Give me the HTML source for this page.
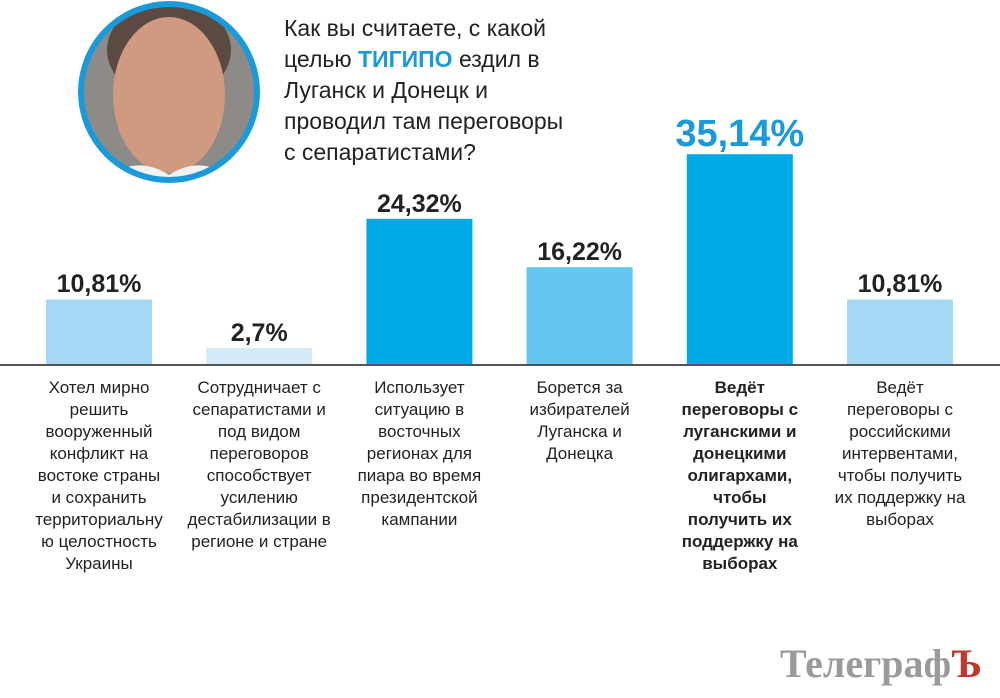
<!DOCTYPE html>
<html><head><meta charset="utf-8"><style>
body{margin:0;width:1000px;height:698px;background:#fff;overflow:hidden;font-family:"Liberation Sans",sans-serif;position:relative}
.t{position:absolute;left:284px;top:13px;font-size:23px;line-height:31px;color:#222}
.lab{position:absolute;width:170px;text-align:center;font-size:17px;line-height:22px;color:#222;top:377px}
.val{position:absolute;width:160px;text-align:center;font-weight:bold;font-size:25px;color:#222}
</style></head><body>
<div class="t">Как вы считаете, с какой<br>целью <b style="color:#1a9ad9">ТИГИПО</b> ездил в<br>Луганск и Донецк и<br>проводил там переговоры<br>с сепаратистами?</div>
<svg width="1000" height="698" style="position:absolute;left:0;top:0" id="ch">
<defs><clipPath id="cp"><circle cx="169" cy="92" r="88"/></clipPath></defs>
<g>
<circle cx="169" cy="92" r="88" fill="#8e8a88"/>
<g clip-path="url(#cp)">
<ellipse cx="169" cy="50" rx="62" ry="50" fill="#5a4a42"/>
<ellipse cx="169" cy="95" rx="56" ry="78" fill="#cf9a80"/>
<path d="M95 190 Q130 150 169 175 Q208 150 243 190Z" fill="#f2f2f2"/>
</g>
<circle cx="169" cy="92" r="88" fill="none" stroke="#1a9ad9" stroke-width="6"/>
</g>
<line x1="0" y1="365" x2="1000" y2="365" stroke="#555" stroke-width="2"/>
</svg>
<div style="position:absolute;left:780px;top:640px;font-family:'Liberation Serif',serif;font-weight:bold;font-size:40px;color:#9a9a9a">Телеграф<span style="color:#c0392b">Ъ</span></div>
<script>
const categories=["Хотел мирно решить вооруженный конфликт на востоке страны и сохранить территориальну ю целостность Украины","Сотрудничает с сепаратистами и под видом переговоров способствует усилению дестабилизации в регионе и стране","Использует ситуацию в восточных регионах для пиара во время президентской кампании","Борется за избирателей Луганска и Донецка","Ведёт переговоры с луганскими и донецкими олигархами, чтобы получить их поддержку на выборах","Ведёт переговоры с российскими интервентами, чтобы получить их поддержку на выборах"];
const labelLines=[["Хотел мирно","решить","вооруженный","конфликт на","востоке страны","и сохранить","территориальну","ю целостность","Украины"],["Сотрудничает с","сепаратистами и","под видом","переговоров","способствует","усилению","дестабилизации в","регионе и стране"],["Использует","ситуацию в","восточных","регионах для","пиара во время","президентской","кампании"],["Борется за","избирателей","Луганска и","Донецка"],["Ведёт","переговоры с","луганскими и","донецкими","олигархами,","чтобы","получить их","поддержку на","выборах"],["Ведёт","переговоры с","российскими","интервентами,","чтобы получить","их поддержку на","выборах"]];
const values=[10.81,2.7,24.32,16.22,35.14,10.81];
const valueLabels=["10,81%","2,7%","24,32%","16,22%","35,14%","10,81%"];
const colors=["#a3d9f5","#d4ecf9","#00a8e6","#62c6f0","#00a8e6","#a3d9f5"];
const base=364, scale=5.97;
const x=i=>46+i*160.2, y=v=>base-v*scale;
const svg=document.getElementById('ch');
values.forEach((v,i)=>{
 const r=document.createElementNS('http://www.w3.org/2000/svg','rect');
 
 
 r.setAttribute('x',x(i));r.setAttribute('width',106);
 r.setAttribute('y',y(v));r.setAttribute('height',base-y(v));r.setAttribute('fill',colors[i]);
 svg.insertBefore(r,svg.lastElementChild);
 const d=document.createElement('div');
 
 
 d.className='val';d.textContent=valueLabels[i];
 const big=i===4;
 if(big){d.style.fontSize='38px';d.style.color='#1a9ad9';}
 d.style.left=(x(i)+53-80)+'px';d.style.top=(y(v)-(big?41:29))+'px';
 document.body.appendChild(d);
 const l=document.createElement('div');
 
 
 l.className='lab';l.innerHTML=labelLines[i].join('<br>');l.title=categories[i];
 if(big)l.style.fontWeight='bold';
 l.style.left=(x(i)+53-85)+'px';
 document.body.appendChild(l);
});
</script>
</body></html>
